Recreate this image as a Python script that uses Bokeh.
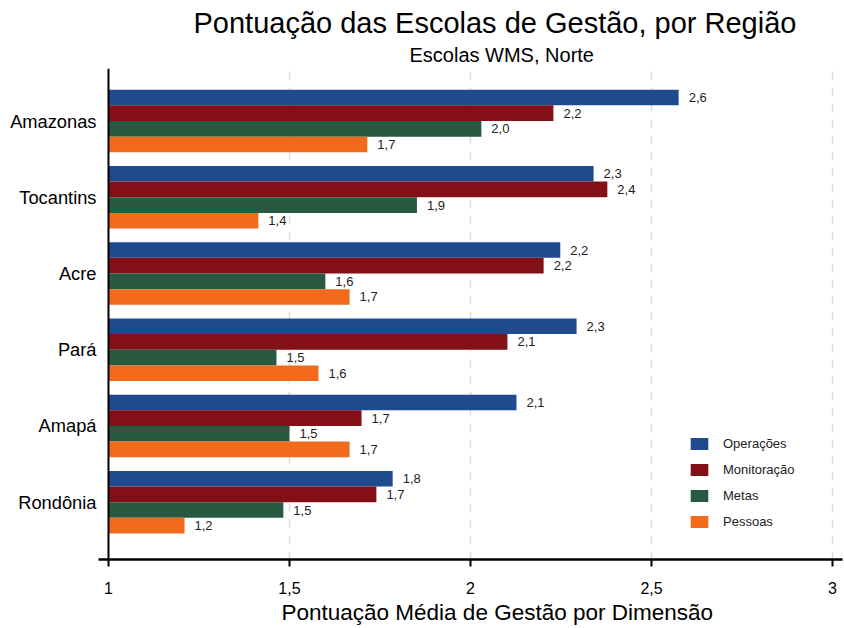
from bokeh.plotting import figure
from bokeh.models import (ColumnDataSource, Range1d, Span, Title,
                          Legend, LegendItem, FixedTicker)
from bokeh.transform import dodge
from bokeh.core.properties import value
from bokeh.embed import file_html
from bokeh.resources import INLINE

regions = ["Amazonas", "Tocantins", "Acre", "Pará", "Amapá", "Rondônia"]
operacoes = [2.575, 2.34, 2.248, 2.293, 2.127, 1.785]
monitoracao = [2.229, 2.378, 2.202, 2.102, 1.699, 1.740]
metas = [2.030, 1.852, 1.599, 1.464, 1.500, 1.483]
pessoas = [1.715, 1.414, 1.666, 1.580, 1.666, 1.210]
series_names = ["Operações", "Monitoração", "Metas", "Pessoas"]
colors = ["#1f4a8e", "#821016", "#275a41", "#f26b1a"]
x_ticks = [1, 1.5, 2, 2.5, 3]
x_tick_labels = ["1", "1,5", "2", "2,5", "3"]

FONT = "Liberation Sans"

# category slots: first region at the top
ypos = [len(regions) - 1 - i for i in range(len(regions))]

series = [operacoes, monitoracao, metas, pessoas]
data = {"region": regions, "ypos": ypos}
keys = ["s0", "s1", "s2", "s3"]
for k, vals in zip(keys, series):
    data[k] = vals
    data[k + "_lbl"] = [f"{v:.1f}".replace(".", ",") for v in vals]
src = ColumnDataSource(data)

p = figure(width=844, height=628,
           x_range=Range1d(0.9724, 3.0276),
           y_range=Range1d(-0.752, 5.689),
           output_backend="svg", toolbar_location=None, title=None,
           min_border_left=98, min_border_right=2, min_border_top=68,
           min_border_bottom=69)
p.outline_line_color = None
p.background_fill_color = "white"
p.border_fill_color = "white"

offsets = [0.308, 0.103, -0.103, -0.308]
bar_h = 0.205
renderers = []
for k, off, col in zip(keys, offsets, colors):
    r = p.hbar(y=dodge("ypos", off), left=1, right=k,
               height=bar_h, fill_color=col, line_color=None, source=src)
    renderers.append(r)
    p.text(x=k, y=dodge("ypos", off), text=k + "_lbl",
           x_offset=10, text_baseline="middle", text_align="left",
           text_font=value(FONT), text_font_size="13px", text_color="#222222",
           source=src)

# vertical axis line at x = 1
p.add_layout(Span(location=1, dimension="height", line_color="black",
                  line_width=2))

# grid
p.ygrid.grid_line_color = None
p.xgrid.ticker = FixedTicker(ticks=x_ticks[1:])
p.xgrid.grid_line_color = "#dcdcdc"
p.xgrid.grid_line_dash = "8 8"
p.xgrid.grid_line_width = 1.5

# x axis
xa = p.xaxis[0]
xa.ticker = FixedTicker(ticks=x_ticks)
xa.major_label_overrides = {t: l for t, l in zip(x_ticks, x_tick_labels)}
xa.axis_line_width = 2.5
xa.axis_line_color = "black"
xa.major_tick_out = 7
xa.major_tick_in = 0
xa.major_tick_line_width = 2
xa.minor_tick_line_color = None
xa.major_label_text_font = FONT
xa.major_label_text_font_size = "16px"
xa.major_label_text_color = "black"
xa.major_label_standoff = 15

# y axis (region names at the category slots)
ya = p.yaxis[0]
ya.ticker = FixedTicker(ticks=ypos)
ya.major_label_overrides = {y: r for y, r in zip(ypos, regions)}
ya.axis_line_color = None
ya.major_tick_line_color = None
ya.major_tick_out = 0
ya.major_tick_in = 0
ya.minor_tick_line_color = None
ya.minor_tick_out = 0
ya.major_label_text_font = FONT
ya.major_label_text_font_size = "18.3px"
ya.major_label_text_color = "black"
ya.major_label_standoff = 2

# titles
p.add_layout(Title(text="Escolas WMS, Norte", align="left", offset=311,
                   text_font=FONT, text_font_size="20px",
                   text_font_style="normal", text_color="black",
                   standoff=6), "above")
p.add_layout(Title(text="Pontuação das Escolas de Gestão, por Região",
                   align="left", offset=95, text_font=FONT,
                   text_font_size="29px", text_font_style="normal",
                   text_color="black", standoff=0), "above")
p.add_layout(Title(text="Pontuação Média de Gestão por Dimensão",
                   align="left", offset=183, text_font=FONT,
                   text_font_size="22.5px", text_font_style="normal",
                   text_color="black", standoff=2), "below")

legend = Legend(items=[LegendItem(label=n, renderers=[r])
                       for n, r in zip(series_names, renderers)],
                location=(590, 30), padding=0, margin=0, spacing=11,
                glyph_width=22, glyph_height=15, label_standoff=13,
                label_height=15,
                label_text_font=FONT, label_text_font_size="13px",
                label_text_color="#222222",
                background_fill_alpha=0, border_line_color=None)
p.add_layout(legend, "center")

open("out.html", "w").write(file_html(p, INLINE))
